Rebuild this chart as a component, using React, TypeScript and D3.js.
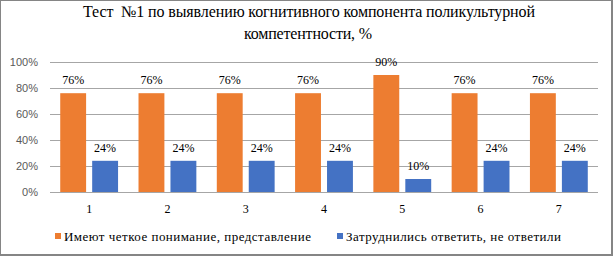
import React from "react";
import * as d3 from "d3";

const categories = ["1", "2", "3", "4", "5", "6", "7"];
const understand = [76, 76, 76, 76, 90, 76, 76];
const difficult = [24, 24, 24, 24, 10, 24, 24];
const yTicks = [0, 20, 40, 60, 80, 100];
const seriesNames = ["Имеют четкое понимание, представление", "Затруднились ответить, не ответили"];
const titleLines = ["Тест  №1 по выявлению когнитивного компонента поликультурной", "компетентности, %"];

const W = 613, H = 256;
const ORANGE = "#ED7D31", BLUE = "#4472C4";
const SERIF = "Liberation Serif, Times New Roman, DejaVu Serif, serif";
const SANS = "Liberation Sans, Arial, DejaVu Sans, sans-serif";

export default function App() {
  const x = d3.scaleBand<string>().domain(categories).range([50, 598]);
  const inner = d3.scaleBand<number>().domain([0, 1]).range([0, x.bandwidth()]).paddingInner(0.19).paddingOuter(0.32);
  const y = d3.scaleLinear().domain([0, 100]).range([192, 62]);
  const series = [understand, difficult];
  const colors = [ORANGE, BLUE];
  return (
    <svg width={W} height={H} style={{ position: "absolute", left: 0, top: 0 }}>
      <rect x={0.5} y={0.5} width={611} height={254} fill="#fff" stroke="#858585" />
      <line x1={612.5} x2={612.5} y1={0} y2={256} stroke="#858585" />
      <line x1={0} x2={613} y1={255.5} y2={255.5} stroke="#858585" />
      <text x={83} y={17} textLength={452} lengthAdjust="spacing" style={{ fontFamily: SERIF, whiteSpace: "pre" }} fontSize={16} fill="#000">{titleLines[0]}</text>
      <text x={244} y={39} textLength={128} lengthAdjust="spacing" style={{ fontFamily: SERIF }} fontSize={16} fill="#000">{titleLines[1]}</text>
      {yTicks.map((t) => (
        <g key={t}>
          <line x1={50} x2={598} y1={Math.round(y(t)) + 0.5} y2={Math.round(y(t)) + 0.5} stroke="#a6a6a6" strokeWidth={1} />
          <text x={38} y={y(t) + 4} textAnchor="end" style={{ fontFamily: SANS }} fontSize={11} fill="#595959">{t}%</text>
        </g>
      ))}
      {categories.map((c, ci) => (
        <g key={c}>
          {series.map((s, si) => {
            const bx = (x(c) as number) + (inner(si) as number);
            const bw = inner.bandwidth();
            return (
              <g key={si}>
                <rect x={bx} y={y(s[ci])} width={bw} height={y(0) - y(s[ci])} fill={colors[si]} />
                <text x={bx + bw / 2} y={y(s[ci]) - 9} textAnchor="middle" style={{ fontFamily: SERIF }} fontSize={12} fill="#000">{s[ci]}%</text>
              </g>
            );
          })}
          <text x={(x(c) as number) + x.bandwidth() / 2} y={213} textAnchor="middle" style={{ fontFamily: SERIF }} fontSize={12} fill="#000">{c}</text>
        </g>
      ))}
      <rect x={55} y={233} width={6} height={6} fill={ORANGE} />
      <text x={64} y={241} textLength={247} lengthAdjust="spacing" style={{ fontFamily: SERIF }} fontSize={13} fill="#000">{seriesNames[0]}</text>
      <rect x={337} y={233} width={6} height={6} fill={BLUE} />
      <text x={346} y={241} textLength={215} lengthAdjust="spacing" style={{ fontFamily: SERIF }} fontSize={13} fill="#000">{seriesNames[1]}</text>
    </svg>
  );
}
